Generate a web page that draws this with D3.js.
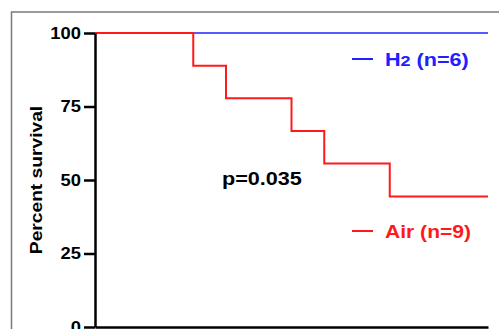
<!DOCTYPE html>
<html>
<head>
<meta charset="utf-8">
<script src="https://cdn.jsdelivr.net/npm/d3@7"></script>
<style>
  body { margin: 0; background: #fff; }
  svg { display: block; font-family: "Liberation Sans", Arial, sans-serif; }
</style>
</head>
<body>
<div id="root"></div>
<script>
// survival data (days vs percent)
const airDays = [0, 3, 4, 6, 7, 9, 12]
const airSurvival = [100, 88.9, 77.8, 66.7, 55.6, 44.4, 44.4]
const h2Days = [0, 12]
const h2Survival = [100, 100]
const yTicks = [0, 25, 50, 75, 100]
const legendLabels = [
  { name: "H", sub: "2", rest: " (n=6)", color: "#2020ff" },
  { name: "Air", sub: "", rest: " (n=9)", color: "#ff1a1a" },
]

const width = 499
const height = 329
const margin = { top: 33, right: 11, bottom: 2, left: 95 }
const boundedHeight = height - margin.top - margin.bottom

// the original glyphs are a bit wider than Liberation Sans
const widen = (sel, stretch = 1.2) => sel.each(function () {
  const len = this.getComputedTextLength()
  d3.select(this)
    .attr("textLength", len * stretch)
    .attr("lengthAdjust", "spacingAndGlyphs")
})

const wrapper = d3.select("#root").append("svg")
  .attr("width", width)
  .attr("height", height)

// outer frame
wrapper.append("rect")
  .attr("x", 11.5)
  .attr("y", 12)
  .attr("width", 520)
  .attr("height", 340)
  .attr("fill", "none")
  .attr("stroke", "#7a7a7a")
  .attr("stroke-width", 1.5)

const bounds = wrapper.append("g")
  .attr("transform", `translate(${margin.left}, ${margin.top})`)

const xScale = d3.scaleLinear()
  .domain([0, 12])
  .range([0, 393])

const yScale = d3.scaleLinear()
  .domain([0, 100])
  .range([boundedHeight, 0])

const lineGen = (xs, ys) => d3.line()
  .x((d, i) => xScale(xs[i]))
  .y((d, i) => yScale(ys[i]))
  .curve(d3.curveStepAfter)(xs)

bounds.append("path")
  .attr("d", lineGen(h2Days, h2Survival))
  .attr("fill", "none")
  .attr("stroke", "#2020ff")
  .attr("stroke-width", 1.5)

bounds.append("path")
  .attr("d", lineGen(airDays, airSurvival))
  .attr("fill", "none")
  .attr("stroke", "#ff1a1a")
  .attr("stroke-width", 2)

// axes
const yAxis = bounds.append("g")
  .call(d3.axisLeft(yScale).tickValues(yTicks).tickSize(11).tickPadding(3).tickSizeOuter(0))
yAxis.select(".domain").attr("stroke", "#000").attr("stroke-width", 2.5)
yAxis.selectAll(".tick line").attr("stroke", "#000").attr("stroke-width", 2.5)
yAxis.selectAll(".tick text")
  .attr("fill", "#000")
  .style("font-size", "17px")
  .style("font-weight", "bold")
  .style("font-family", "'Liberation Sans', Arial, sans-serif")
  .call(widen, 1.08)

const xAxis = bounds.append("g")
  .attr("transform", `translate(0, ${boundedHeight})`)
  .call(d3.axisBottom(xScale).tickValues([]).tickSizeOuter(0))
xAxis.select(".domain").attr("stroke", "#000").attr("stroke-width", 2.5)

wrapper.append("text")
  .attr("transform", `translate(42, ${margin.top + boundedHeight / 2}) rotate(-90)`)
  .attr("text-anchor", "middle")
  .style("font-size", "16px")
  .style("font-weight", "bold")
  .text("Percent survival")
  .call(widen)

wrapper.append("text")
  .attr("x", 222)
  .attr("y", 185)
  .style("font-size", "18px")
  .style("font-weight", "bold")
  .text("p=0.035")
  .call(widen)

// legend
const legendY = [59, 231]
legendLabels.forEach((d, i) => {
  const g = wrapper.append("g").attr("transform", `translate(352, ${legendY[i]})`)
  g.append("line")
    .attr("x1", 0).attr("x2", 21)
    .attr("stroke", d.color)
    .attr("stroke-width", 2)
  const t = g.append("text")
    .attr("x", 33)
    .attr("y", 7)
    .attr("fill", d.color)
    .style("font-size", "18px")
    .style("font-weight", "bold")
  t.append("tspan").text(d.name)
  if (d.sub) t.append("tspan").style("font-size", "15px").text(d.sub)
  t.append("tspan").text(d.rest)
  t.call(widen, d.sub ? 1.2 : 1.17)
})
</script>
</body>
</html>
